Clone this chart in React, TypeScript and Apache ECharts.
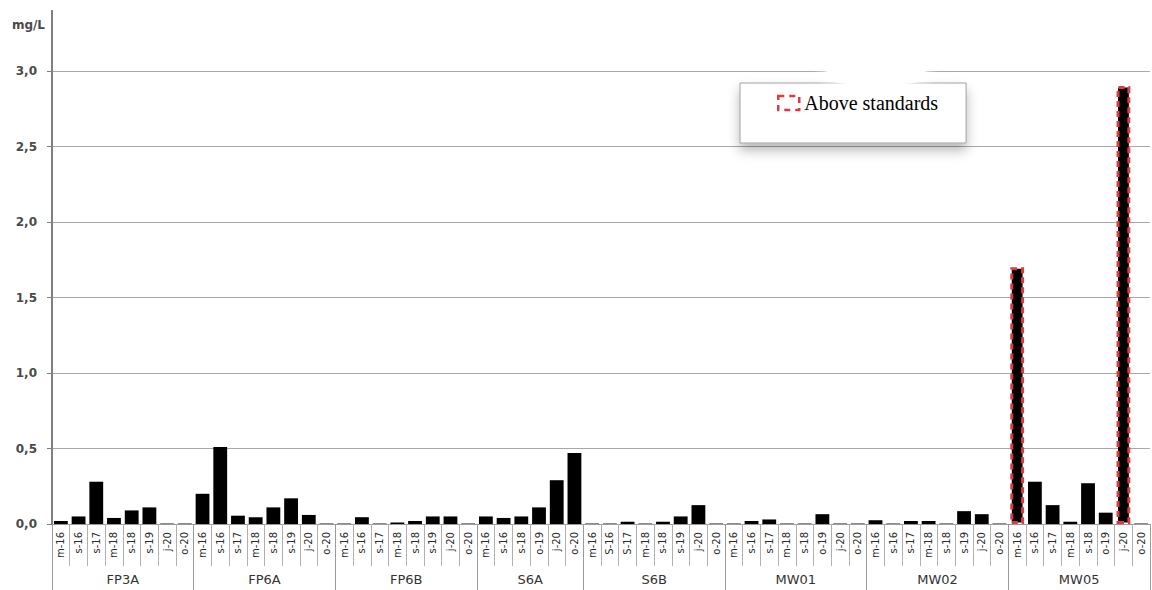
import React, { useEffect, useRef } from 'react';
import * as echarts from 'echarts';

// ---- Data ----
const groups = ['FP3A', 'FP6A', 'FP6B', 'S6A', 'S6B', 'MW01', 'MW02', 'MW05'];

const datesFP3A = ['m-16', 's-16', 's-17', 'm-18', 's-18', 's-19', 'j-20', 'o-20'];
const valuesFP3A = [0.02, 0.05, 0.28, 0.04, 0.09, 0.11, 0.003, 0.003];

const datesFP6A = ['m-16', 's-16', 's-17', 'm-18', 's-18', 's-19', 'j-20', 'o-20'];
const valuesFP6A = [0.2, 0.51, 0.055, 0.045, 0.11, 0.17, 0.06, 0.003];

const datesFP6B = ['m-16', 's-16', 's-17', 'm-18', 's-18', 's-19', 'j-20', 'o-20'];
const valuesFP6B = [0.003, 0.045, 0.003, 0.01, 0.02, 0.05, 0.05, 0.003];

const datesS6A = ['m-16', 's-16', 's-18', 'o-19', 'j-20', 'o-20'];
const valuesS6A = [0.05, 0.04, 0.05, 0.11, 0.29, 0.47];

const datesS6B = ['m-16', 'S-16', 'S-17', 'm-18', 's-18', 's-19', 'j-20', 'o-20'];
const valuesS6B = [0.003, 0.003, 0.015, 0.003, 0.015, 0.05, 0.125, 0.003];

const datesMW01 = ['m-16', 's-16', 's-17', 'm-18', 's-18', 'o-19', 'j-20', 'o-20'];
const valuesMW01 = [0.003, 0.02, 0.03, 0.003, 0.003, 0.065, 0.003, 0.003];

const datesMW02 = ['m-16', 's-16', 's-17', 'm-18', 's-18', 's-19', 'j-20', 'o-20'];
const valuesMW02 = [0.025, 0.003, 0.02, 0.02, 0.003, 0.085, 0.065, 0.003];

const datesMW05 = ['m-16', 's-16', 's-17', 'm-18', 's-18', 'o-19', 'j-20', 'o-20'];
const valuesMW05 = [1.7, 0.28, 0.125, 0.015, 0.27, 0.075, 2.9, 0.003];

const aboveStandards = ['MW05|m-16', 'MW05|j-20'];

const yTicks = [0, 0.5, 1.0, 1.5, 2.0, 2.5, 3.0];
const unitLabel = 'mg/L';
const legendLabel = 'Above standards';

// ---- Derived ----
const groupDates = [datesFP3A, datesFP6A, datesFP6B, datesS6A, datesS6B, datesMW01, datesMW02, datesMW05];
const groupValues = [valuesFP3A, valuesFP6A, valuesFP6B, valuesS6A, valuesS6B, valuesMW01, valuesMW02, valuesMW05];

const categories: string[] = [];
const normalData: (number | string)[] = [];
const aboveData: (number | string)[] = [];
const boundaries: number[] = [0];
const centers: Record<number, string> = {};
let pos = 0;
groups.forEach((g, gi) => {
  const ds = groupDates[gi];
  const vs = groupValues[gi];
  const start = pos;
  ds.forEach((d, i) => {
    categories.push(d);
    const above = aboveStandards.includes(g + '|' + d);
    normalData.push(above ? '-' : vs[i]);
    aboveData.push(above ? vs[i] : '-');
    pos++;
  });
  boundaries.push(pos);
  centers[(start + pos) / 2] = g;
});
const total = pos;
const groupAxisData = Array.from({ length: total + 1 }, (_, i) => 'k' + i);

const SANS = "'DejaVu Sans', Verdana, sans-serif";
const SERIF = "'Liberation Serif', 'Times New Roman', serif";

const option: any = {
  animation: false,
  backgroundColor: '#fff',
  textStyle: { fontFamily: SANS },
  grid: { left: 52, right: 2, top: 71, bottom: 66, containLabel: false },
  legend: {
    show: true,
    left: 740,
    top: 83,
    orient: 'horizontal',
    padding: [10, 28, 30, 37],
    backgroundColor: '#fff',
    borderColor: '#a0a0a0',
    borderWidth: 1,
    shadowBlur: 12,
    shadowColor: 'rgba(0,0,0,0.28)',
    shadowOffsetY: 7,
    itemWidth: 21,
    itemHeight: 14,
    icon: 'rect',
    data: [
      {
        name: legendLabel,
        icon: 'rect',
        itemStyle: {
          color: 'rgba(255,255,255,0)',
          borderColor: '#e0393e',
          borderWidth: 2.5,
          borderType: [6, 5],
        },
      },
    ],
    textStyle: { fontFamily: SERIF, fontSize: 20, color: '#000' },
  },
  xAxis: [
    {
      type: 'category',
      data: categories,
      position: 'bottom',
      axisLine: { show: true, lineStyle: { color: '#9a9a9a', width: 1 } },
      axisTick: { show: true, interval: 0, length: 42, lineStyle: { color: '#b0b0b0' } },
      axisLabel: {
        interval: 0,
        rotate: 90,
        margin: 8,
        fontSize: 10,
        color: '#2a2a2a',
        fontFamily: SANS,
      },
      splitLine: { show: false },
    },
    {
      type: 'category',
      data: groupAxisData,
      boundaryGap: false,
      position: 'bottom',
      axisLine: { show: false },
      axisTick: {
        show: true,
        length: 66,
        interval: (idx: number) => boundaries.includes(idx),
        lineStyle: { color: '#9a9a9a' },
      },
      axisLabel: {
        show: true,
        interval: (idx: number) => centers[idx] !== undefined,
        formatter: (_v: string, idx: number) => centers[idx] || '',
        margin: 49,
        fontSize: 13,
        color: '#333',
        fontFamily: SANS,
      },
      splitLine: { show: false },
    },
  ],
  yAxis: {
    type: 'value',
    min: yTicks[0],
    max: yTicks[yTicks.length - 1],
    interval: 0.5,
    axisLine: { show: true, lineStyle: { color: '#7f7f7f', width: 2 } },
    axisTick: { show: true, length: 5, lineStyle: { color: '#7f7f7f' } },
    axisLabel: {
      formatter: (v: number) => v.toFixed(1).replace('.', ','),
      fontSize: 12,
      fontWeight: 'bold',
      color: '#4a4a4a',
      margin: 15,
      fontFamily: SANS,
    },
    splitLine: { show: true, lineStyle: { color: '#a8a8a8', width: 1 } },
  },
  graphic: [
    {
      type: 'line',
      shape: { x1: 52, y1: 10, x2: 52, y2: 72 },
      style: { stroke: '#7f7f7f', lineWidth: 2 },
      z: 10,
    },
    {
      type: 'text',
      x: 45,
      y: 25,
      style: {
        text: unitLabel,
        align: 'right',
        verticalAlign: 'middle',
        font: "bold 12px 'DejaVu Sans', Verdana, sans-serif",
        fill: '#4a4a4a',
      },
    },
    {
      type: 'ellipse',
      shape: { cx: 876, cy: 76, rx: 58, ry: 9 },
      style: { fill: '#fff', shadowBlur: 10, shadowColor: '#fff' },
      z: 100,
      silent: true,
    },
  ],
  series: [
    {
      name: 'Results',
      type: 'bar',
      stack: 'v',
      xAxisIndex: 0,
      data: normalData,
      barCategoryGap: '22%',
      itemStyle: { color: '#000' },
    },
    {
      name: legendLabel,
      type: 'bar',
      stack: 'v',
      xAxisIndex: 0,
      data: aboveData,
      barCategoryGap: '22%',
      itemStyle: {
        color: '#000',
        borderColor: '#e0393e',
        borderWidth: 3,
        borderType: [6, 4],
      },
    },
  ],
};

export default function App() {
  const ref = useRef<HTMLDivElement>(null);
  useEffect(() => {
    if (!ref.current) return;
    const chart = echarts.init(ref.current, null, { renderer: 'svg' });
    chart.setOption(option);
    return () => chart.dispose();
  }, []);
  return (
    <div
      ref={ref}
      style={{ position: 'fixed', left: 0, top: 0, width: 1152, height: 590, background: '#fff' }}
    />
  );
}
